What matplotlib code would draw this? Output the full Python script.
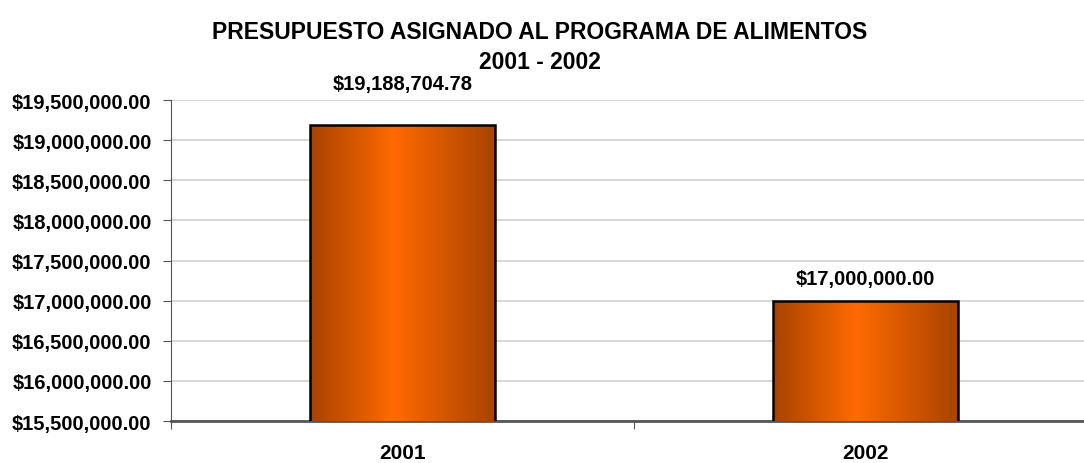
import numpy as np
import matplotlib
matplotlib.use("Agg")
import matplotlib.pyplot as plt
from matplotlib.colors import LinearSegmentedColormap
from matplotlib.ticker import FuncFormatter, FixedLocator

years = ["2001", "2002"]
budget = [19188704.78, 17000000.00]

plt.rcParams['font.family'] = ['Liberation Sans', 'DejaVu Sans']
plt.rcParams['font.weight'] = 'bold'

fig = plt.figure(figsize=(10.84, 4.64), dpi=100)
ax = fig.add_axes([0.1578, 0.0905, 0.8537, 0.6918])

x = np.arange(len(years))
width = 0.4
bars = ax.bar(x, budget, width, color='none', edgecolor='black', linewidth=1.8, zorder=4)

# horizontal gradient inside each bar
cmap = LinearSegmentedColormap.from_list('grad', [(0, '#A84300'), (0.45, '#FF6A00'), (1, '#A84300')])
grad = np.linspace(0, 1, 256).reshape(1, -1)
for b in bars:
    x0, y0 = b.get_x(), b.get_y()
    im = ax.imshow(grad, cmap=cmap, aspect='auto', zorder=3,
                   extent=[x0, x0 + b.get_width(), 15500000, y0 + b.get_height()])
    im.set_clip_path(b)

ax.set_xlim(-0.5, 1.5)
ax.set_ylim(15500000, 19500000)
ax.set_yticks(np.arange(15500000, 19500001, 500000))
ax.yaxis.set_major_formatter(FuncFormatter(lambda v, p: "${:,.2f}".format(v)))
ax.grid(axis='y', color='#D0D0D0', linewidth=1.2, zorder=0)
ax.set_axisbelow(True)

ax.xaxis.set_major_locator(FixedLocator([-0.5, 0.5, 1.5]))
ax.xaxis.set_major_formatter(FuncFormatter(lambda v, p: ""))
ax.set_xticks(x, minor=True)
ax.set_xticklabels(years, minor=True)
ax.tick_params(axis='x', which='minor', length=0, pad=16, labelsize=15)
ax.tick_params(axis='x', which='major', direction='out', length=6, color='#555555')
ax.tick_params(axis='y', direction='out', length=6, color='#555555', labelsize=14.5, pad=8)

for s in ['top', 'right']:
    ax.spines[s].set_visible(False)
ax.spines['left'].set_color('#555555')
ax.spines['bottom'].set_color('#555555')
ax.spines['bottom'].set_linewidth(2)

offsets = [23, 9]
for xi, v, off in zip(x, budget, offsets):
    ax.annotate("${:,.2f}".format(v), (xi, v), xytext=(0, off), textcoords='offset points',
                ha='center', va='bottom', fontsize=14.5, fontweight='bold', annotation_clip=False)

fig.text(0.498, 0.897, "PRESUPUESTO ASIGNADO AL PROGRAMA DE ALIMENTOS\n2001 - 2002",
         ha='center', va='center', fontsize=16.5, fontweight='bold', linespacing=1.4)

fig.savefig("out.png", dpi=100)
